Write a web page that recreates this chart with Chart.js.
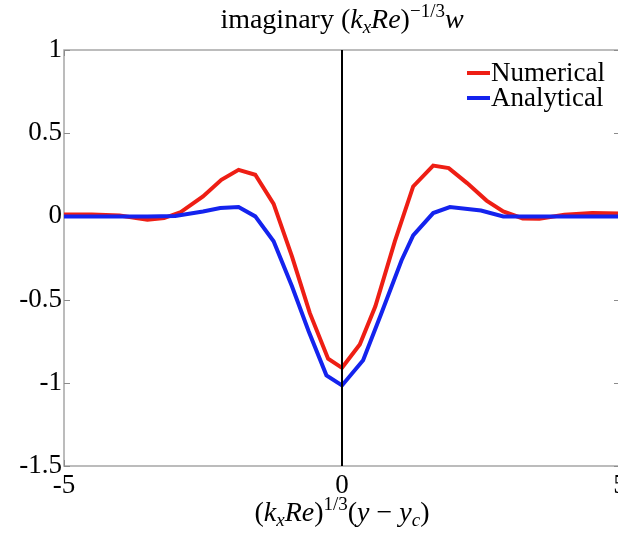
<!DOCTYPE html>
<html><head><meta charset="utf-8">
<script src="https://cdn.jsdelivr.net/npm/chart.js@4/dist/chart.umd.min.js"></script>
<style>
html,body{margin:0;padding:0;background:#fff;overflow:hidden;width:618px;height:536px}
#wrap{position:absolute;left:0;top:0;width:640px;height:536px}
</style></head><body>
<div id="wrap"><canvas id="c" width="640" height="536"></canvas></div>
<script>
const xNumerical = [-5, -4.5, -4.0, -3.5, -3.2, -2.9, -2.5, -2.17, -1.86, -1.56, -1.23, -0.9, -0.58, -0.25, 0, 0.32, 0.6, 0.95, 1.28, 1.64, 1.92, 2.25, 2.6, 2.9, 3.25, 3.55, 4.0, 4.5, 5];
const yNumerical = [0.012, 0.012, 0.005, -0.02, -0.01, 0.026, 0.12, 0.22, 0.28, 0.25, 0.075, -0.24, -0.58, -0.855, -0.91, -0.77, -0.54, -0.15, 0.18, 0.305, 0.29, 0.2, 0.095, 0.03, -0.012, -0.014, 0.01, 0.02, 0.017];
const xAnalytical = [-5, -4, -3.5, -3, -2.5, -2.19, -1.86, -1.56, -1.23, -0.9, -0.6, -0.28, 0, 0.38, 0.7, 1.07, 1.28, 1.64, 1.94, 2.5, 2.9, 3.5, 4, 5];
const yAnalytical = [0, 0, 0, 0.003, 0.03, 0.05, 0.056, 0.0, -0.15, -0.42, -0.69, -0.955, -1.016, -0.865, -0.59, -0.265, -0.114, 0.02, 0.056, 0.035, 0.0, 0, 0, 0];
const zeroLineX = [0, 0];
const zeroLineY = [-1.5, 1];
const xTicks = [-5, 0, 5];
const xTickLabels = ['-5', '0', '5'];
const yTicks = [-1.5, -1, -0.5, 0, 0.5, 1];
const yTickLabels = ['-1.5', '-1', '-0.5', '0', '0.5', '1'];
const seriesNames = ['Numerical', 'Analytical'];
const seriesColors = ['rgb(238,30,20)', 'rgb(20,35,238)'];

const pts = (xs, ys) => xs.map((x, i) => ({x: x, y: ys[i]}));
const SERIF = '"Liberation Serif", "Times New Roman", serif';

function drawRich(ctx, segs, cx, baseline) {
  let total = 0;
  segs.forEach(s => {
    ctx.font = (s.it ? 'italic ' : '') + s.s + 'px ' + SERIF;
    s.w = ctx.measureText(s.t).width;
    total += s.w;
  });
  let x = cx - total / 2;
  ctx.textAlign = 'left';
  ctx.textBaseline = 'alphabetic';
  ctx.fillStyle = '#000';
  segs.forEach(s => {
    ctx.font = (s.it ? 'italic ' : '') + s.s + 'px ' + SERIF;
    ctx.fillText(s.t, x, baseline + (s.dy || 0));
    x += s.w;
  });
}

const decor = {
  id: 'decor',
  beforeDatasetsDraw(chart) {
    const {ctx, chartArea: a} = chart;
    ctx.save();
    ctx.strokeStyle = '#a6a6a6';
    ctx.lineWidth = 1.5;
    ctx.strokeRect(a.left, a.top, a.right - a.left, a.bottom - a.top);
    ctx.strokeStyle = '#8c8c8c';
    ctx.lineWidth = 1;
    const ys = chart.scales.y, xs = chart.scales.x;
    yTicks.forEach(v => {
      const py = Math.round(ys.getPixelForValue(v)) + 0.5;
      ctx.beginPath();
      ctx.moveTo(a.left, py); ctx.lineTo(a.left + 6, py);
      ctx.moveTo(a.right, py); ctx.lineTo(a.right - 6, py);
      ctx.stroke();
    });
    xTicks.forEach(v => {
      const px = Math.round(xs.getPixelForValue(v)) + 0.5;
      ctx.beginPath();
      ctx.moveTo(px, a.bottom); ctx.lineTo(px, a.bottom - 6);
      ctx.moveTo(px, a.top); ctx.lineTo(px, a.top + 6);
      ctx.stroke();
    });
    ctx.restore();
  },
  afterDraw(chart) {
    const {ctx, chartArea: a} = chart;
    const cx = (a.left + a.right) / 2;
    ctx.save();
    drawRich(ctx, [
      {t: 'imaginary ', s: 28},
      {t: '(', s: 28},
      {t: 'k', s: 28, it: 1},
      {t: 'x', s: 19, it: 1, dy: 5},
      {t: 'Re', s: 28, it: 1},
      {t: ')', s: 28},
      {t: '\u22121/3', s: 19, dy: -11},
      {t: 'w', s: 28, it: 1}
    ], cx, 28);
    drawRich(ctx, [
      {t: '(', s: 28},
      {t: 'k', s: 28, it: 1},
      {t: 'x', s: 19, it: 1, dy: 5},
      {t: 'Re', s: 28, it: 1},
      {t: ')', s: 28},
      {t: '1/3', s: 19, dy: -11},
      {t: '(', s: 28},
      {t: 'y', s: 28, it: 1},
      {t: ' \u2212 ', s: 28},
      {t: 'y', s: 28, it: 1},
      {t: 'c', s: 19, it: 1, dy: 5},
      {t: ')', s: 28}
    ], cx, 521);
    // legend
    const lx = a.right - 153, ly = a.top + 23;
    seriesNames.forEach((name, i) => {
      const y = ly + i * 25;
      ctx.strokeStyle = seriesColors[i];
      ctx.lineWidth = 4;
      ctx.beginPath();
      ctx.moveTo(lx, y); ctx.lineTo(lx + 23, y);
      ctx.stroke();
      ctx.fillStyle = '#000';
      ctx.font = '27px ' + SERIF;
      ctx.textAlign = 'left';
      ctx.textBaseline = 'middle';
      ctx.fillText(name, lx + 24, y + 1);
    });
    ctx.restore();
  }
};

new Chart(document.getElementById('c'), {
  type: 'line',
  data: {
    datasets: [
      {label: 'zero', data: pts(zeroLineX, zeroLineY), borderColor: '#000', borderWidth: 2, pointRadius: 0, order: -1},
      {label: seriesNames[1], data: pts(xAnalytical, yAnalytical), borderColor: seriesColors[1], borderWidth: 4, pointRadius: 0, tension: 0, order: 0},
      {label: seriesNames[0], data: pts(xNumerical, yNumerical), borderColor: seriesColors[0], borderWidth: 4, pointRadius: 0, tension: 0, order: 1}
    ]
  },
  options: {
    responsive: false,
    animation: false,
    layout: {padding: {top: 50, right: 20, bottom: 0, left: 0}},
    plugins: {legend: {display: false}, tooltip: {enabled: false}, title: {display: false}},
    scales: {
      x: {
        type: 'linear', min: -5, max: 5,
        afterBuildTicks: s => { s.ticks = xTicks.map(v => ({value: v})); },
        afterFit: s => { s.height = 70; },
        grid: {display: false, drawTicks: false},
        border: {display: false},
        ticks: {font: {family: SERIF, size: 27}, color: '#000', padding: 4, maxRotation: 0, autoSkip: false,
          callback: (v) => { const i = xTicks.indexOf(v); return i >= 0 ? xTickLabels[i] : ''; }}
      },
      y: {
        type: 'linear', min: -1.5, max: 1,
        afterBuildTicks: s => { s.ticks = yTicks.map(v => ({value: v})); },
        afterFit: s => { s.width = 64; },
        grid: {display: false, drawTicks: false},
        border: {display: false},
        ticks: {font: {family: SERIF, size: 27}, color: '#000', padding: 2, autoSkip: false,
          callback: (v) => { const i = yTicks.indexOf(v); return i >= 0 ? yTickLabels[i] : ''; }}
      }
    }
  },
  plugins: [decor]
});
</script>
</body></html>
